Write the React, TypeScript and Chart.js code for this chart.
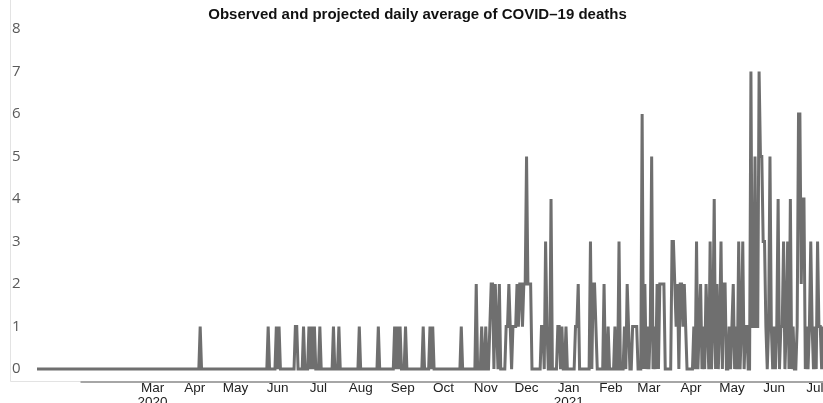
import { useEffect, useRef } from 'react';
import { Chart, registerables } from 'chart.js';

Chart.register(...registerables);

const TITLE = 'Observed and projected daily average of COVID–19 deaths';

// One value per day; day 0 = 7 Dec 2019, last day = 7 Jul 2021
const dailyDeaths: number[] = [
  0, 0, 0, 0, 0, 0, 0, 0, 0, 0, 0, 0, 0, 0, 0, 0, 0, 0, 0, 0, // 0
  0, 0, 0, 0, 0, 0, 0, 0, 0, 0, 0, 0, 0, 0, 0, 0, 0, 0, 0, 0, // 20
  0, 0, 0, 0, 0, 0, 0, 0, 0, 0, 0, 0, 0, 0, 0, 0, 0, 0, 0, 0, // 40
  0, 0, 0, 0, 0, 0, 0, 0, 0, 0, 0, 0, 0, 0, 0, 0, 0, 0, 0, 0, // 60
  0, 0, 0, 0, 0, 0, 0, 0, 0, 0, 0, 0, 0, 0, 0, 0, 0, 0, 0, 0, // 80
  0, 0, 0, 0, 0, 0, 0, 0, 0, 0, 0, 0, 0, 0, 0, 0, 0, 0, 0, 0, // 100
  1, 0, 0, 0, 0, 0, 0, 0, 0, 0, 0, 0, 0, 0, 0, 0, 0, 0, 0, 0, // 120
  0, 0, 0, 0, 0, 0, 0, 0, 0, 0, 0, 0, 0, 0, 0, 0, 0, 0, 0, 0, // 140
  0, 0, 0, 0, 0, 0, 0, 0, 0, 0, 1, 0, 0, 0, 0, 0, 1, 0, 1, 0, // 160
  0, 0, 0, 0, 0, 0, 0, 0, 0, 0, 1, 1, 0, 0, 0, 0, 1, 0, 0, 0, // 180
  1, 0, 1, 0, 1, 0, 0, 0, 1, 0, 0, 0, 0, 0, 0, 0, 0, 0, 1, 0, // 200
  0, 0, 1, 0, 0, 0, 0, 0, 0, 0, 0, 0, 0, 0, 0, 0, 0, 1, 0, 0, // 220
  0, 0, 0, 0, 0, 0, 0, 0, 0, 0, 0, 1, 0, 0, 0, 0, 0, 0, 0, 0, // 240
  0, 0, 0, 1, 0, 1, 0, 1, 0, 0, 0, 1, 0, 0, 0, 0, 0, 0, 0, 0, // 260
  0, 0, 0, 0, 1, 0, 0, 0, 0, 1, 0, 1, 0, 0, 0, 0, 0, 0, 0, 0, // 280
  0, 0, 0, 0, 0, 0, 0, 0, 0, 0, 0, 0, 1, 0, 0, 0, 0, 0, 0, 0, // 300
  0, 0, 0, 2, 0, 0, 0, 1, 0, 0, 1, 0, 0, 1, 2, 2, 0, 2, 1, 0, // 320
  2, 0, 0, 0, 0, 1, 1, 2, 1, 0, 1, 1, 1, 2, 1, 2, 2, 1, 2, 2, // 340
  5, 2, 2, 2, 0, 0, 0, 0, 0, 0, 0, 1, 1, 0, 3, 1, 0, 0, 4, 0, // 360
  0, 0, 0, 1, 1, 0, 1, 0, 0, 1, 0, 0, 0, 0, 0, 0, 1, 1, 2, 0, // 380
  0, 0, 0, 0, 0, 0, 0, 3, 0, 2, 2, 1, 0, 0, 0, 0, 0, 2, 0, 0, // 400
  1, 0, 0, 0, 0, 1, 0, 0, 3, 0, 0, 0, 1, 0, 2, 1, 0, 0, 1, 1, // 420
  1, 1, 0, 0, 0, 6, 0, 2, 0, 1, 0, 1, 5, 0, 1, 0, 2, 0, 2, 2, // 440
  2, 2, 0, 0, 0, 0, 0, 3, 3, 2, 1, 2, 0, 2, 2, 1, 2, 1, 0, 0, // 460
  0, 0, 0, 1, 0, 3, 0, 1, 2, 0, 1, 0, 2, 1, 0, 3, 0, 1, 4, 0, // 480
  2, 0, 1, 3, 0, 2, 2, 0, 0, 1, 0, 1, 2, 0, 1, 0, 3, 0, 1, 3, // 500
  0, 1, 1, 0, 0, 7, 1, 1, 5, 1, 1, 7, 5, 5, 3, 3, 1, 0, 1, 5, // 520
  1, 0, 1, 0, 1, 4, 0, 1, 1, 3, 0, 1, 3, 0, 4, 0, 1, 0, 0, 1, // 540
  6, 6, 2, 4, 4, 0, 1, 0, 1, 3, 1, 0, 1, 0, 3, 1, 1, 0, 1, // 560
];

// first day of each month, counted from day 0
const monthTickDays = [85, 116, 146, 177, 207, 238, 269, 299, 330, 360, 391, 422, 450, 481, 511, 542, 572];
const monthTickLabels: (string | string[])[] = [
  ['Mar', '2020'], 'Apr', 'May', 'Jun', 'Jul', 'Aug', 'Sep', 'Oct', 'Nov', 'Dec',
  ['Jan', '2021'], 'Feb', 'Mar', 'Apr', 'May', 'Jun', 'Jul',
];
const yTicks = [0, 1, 2, 3, 4, 5, 6, 7, 8];

// the darker part of the date axis begins about here
const AXIS_START_DAY = 32;

const framePlugin = {
  id: 'frame',
  beforeDraw(chart: Chart) {
    const { ctx, chartArea, scales } = chart;
    const left = Math.round(scales.y.left) - 2;
    const bottom = Math.round(chartArea.bottom);
    ctx.save();
    ctx.strokeStyle = '#e3e3e3';
    ctx.lineWidth = 1;
    ctx.beginPath();
    ctx.moveTo(left + 0.5, 0);
    ctx.lineTo(left + 0.5, bottom + 0.5);
    ctx.lineTo(chartArea.right, bottom + 0.5);
    ctx.stroke();
    ctx.strokeStyle = '#a6a6a6';
    ctx.lineWidth = 2;
    ctx.beginPath();
    ctx.moveTo(scales.x.getPixelForValue(AXIS_START_DAY), bottom + 1);
    ctx.lineTo(chartArea.right, bottom + 1);
    ctx.stroke();
    ctx.restore();
  },
};

export default function App() {
  const canvasRef = useRef<HTMLCanvasElement>(null);
  const chartRef = useRef<Chart | null>(null);

  useEffect(() => {
    if (!canvasRef.current) return;
    if (chartRef.current) chartRef.current.destroy();

    chartRef.current = new Chart(canvasRef.current, {
      type: 'line',
      data: {
        datasets: [
          {
            label: 'Daily deaths',
            data: dailyDeaths.map((v, i) => ({ x: i, y: v })),
            borderColor: '#6f6f6f',
            borderWidth: 3,
            pointRadius: 0,
            tension: 0,
          },
        ],
      },
      options: {
        animation: false,
        responsive: true,
        maintainAspectRatio: false,
        layout: { padding: { left: 12, right: 0, top: 0, bottom: 0 } },
        plugins: {
          legend: { display: false },
          tooltip: { enabled: false },
          title: {
            display: true,
            text: TITLE,
            color: '#111',
            font: { family: 'Liberation Sans', weight: 'bold', size: 15 },
            padding: { top: 6, bottom: 5 },
          },
        },
        scales: {
          x: {
            type: 'linear',
            min: 0,
            max: dailyDeaths.length - 1,
            grid: { display: false, drawTicks: false },
            border: { display: false },
            afterBuildTicks: (scale: any) => {
              scale.ticks = monthTickDays.map((v) => ({ value: v }));
            },
            afterFit: (scale: any) => {
              scale.height = 22;
              scale.paddingLeft = 0;
              scale.paddingRight = 0;
            },
            ticks: {
              autoSkip: false,
              maxRotation: 0,
              padding: 0,
              color: '#222',
              font: { family: 'Liberation Sans', size: 13.5, lineHeight: 1.05 },
              callback: (value: any) => monthTickLabels[monthTickDays.indexOf(Number(value))] ?? '',
            },
          },
          y: {
            min: -0.28,
            max: 8,
            grid: { display: false, drawTicks: false },
            border: { display: false },
            afterBuildTicks: (scale: any) => {
              scale.ticks = yTicks.map((v) => ({ value: v }));
            },
            afterFit: (scale: any) => {
              scale.width = 25;
              scale.paddingTop = 0;
              scale.paddingBottom = 0;
            },
            ticks: {
              crossAlign: 'far',
              padding: 0,
              color: '#5a5a5a',
              font: { family: 'Open Sans', size: 15 },
            },
          },
        },
      },
      plugins: [framePlugin],
    });

    return () => {
      chartRef.current?.destroy();
      chartRef.current = null;
    };
  }, []);

  return (
    <div style={{ position: 'absolute', left: 0, top: 0, width: 823, height: 403, background: '#fff' }}>
      <canvas ref={canvasRef}></canvas>
    </div>
  );
}
